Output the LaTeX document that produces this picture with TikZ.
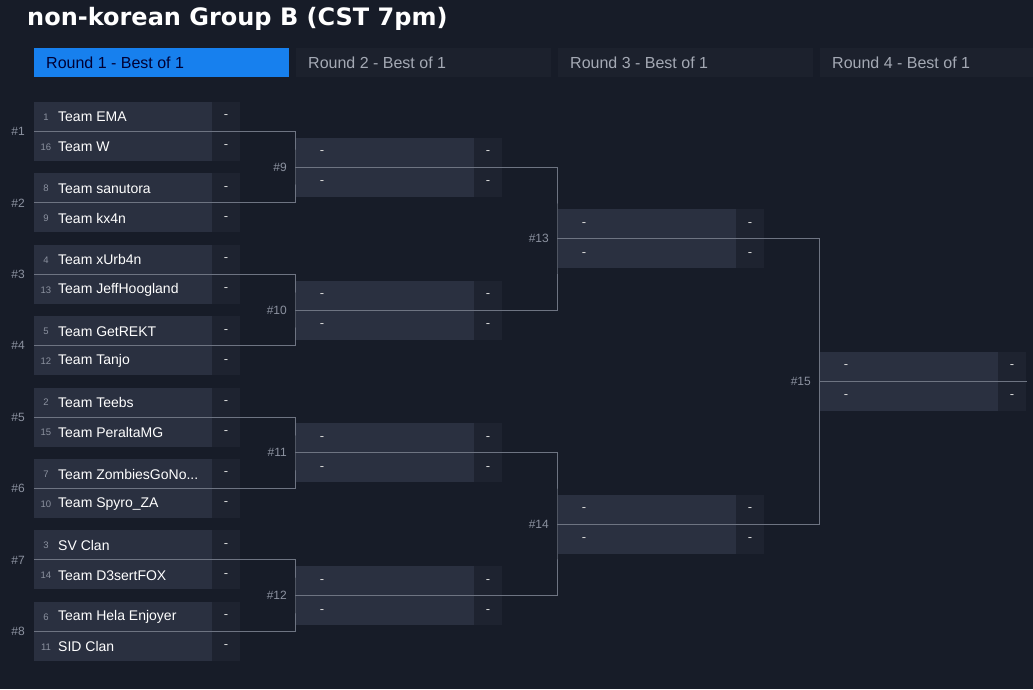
\documentclass[tikz,border=0pt]{standalone}
\usepackage{fontspec}
\setmainfont{Liberation Sans}
\newfontfamily\titlefont{DejaVu Sans}
\definecolor{bg}{HTML}{171C28}
\definecolor{rowc}{HTML}{2A3040}
\definecolor{scorec}{HTML}{1E2330}
\definecolor{tabc}{HTML}{1C212D}
\definecolor{bluec}{HTML}{1780EE}
\definecolor{linec}{HTML}{6E7482}
\definecolor{greyt}{HTML}{8C92A0}
\definecolor{tabt}{HTML}{A4A9B4}
\newcommand{\zgname}{Team ZombiesGoNo...}
\tikzset{
 conn/.style={draw=linec,line width=1pt},
 seed/.style={text=greyt,font=\fontsize{9.5}{10}\selectfont,anchor=center},
 tname/.style={text=white,font=\fontsize{14}{16}\selectfont,anchor=west,inner xsep=0pt},
 dashtxt/.style={text=white!85!black,font=\fontsize{13}{14}\selectfont,anchor=center},
 mlabel/.style={text=greyt,font=\fontsize{12}{13}\selectfont,anchor=east,inner xsep=0pt},
 tabtxt/.style={text=tabt,font=\fontsize{16}{18}\selectfont,anchor=west,inner xsep=0pt},
}
\newcommand{\teamrow}[5]{% x, ytop, seed, name, nodename
 \fill[rowc] (#1,#2) rectangle ++(178,29);
 \fill[scorec] (#1+178,#2) rectangle ++(28,29);
 \node[seed] at (#1+12,#2+15) {#3};
 \node[tname] (#5) at (#1+24,#2+15) {#4};
 \node[dashtxt] at (#1+192,#2+15) {-};
}
\newcommand{\emptyrow}[3]{% x, ytop, name
 \fill[rowc] (#1,#2) rectangle ++(178,29);
 \fill[scorec] (#1+178,#2) rectangle ++(28,29);
 \node[dashtxt] (#3) at (#1+26,#2+15) {-};
 \node[dashtxt] at (#1+192,#2+15) {-};
}
\begin{document}
\begin{tikzpicture}[x=1pt,y=-1pt]
\fill[bg] (0,0) rectangle (1033,689);
\useasboundingbox (0,0) rectangle (1033,689);
\node[anchor=west,inner xsep=0pt,text=white,font=\titlefont\bfseries\fontsize{24}{27}\selectfont] (title) at (27,19) {non-korean Group B (CST 7pm)};
% tabs
\fill[bluec] (34,48) rectangle (289,77);
\node[anchor=west,inner xsep=0pt,text=black!80!blue,font=\fontsize{16}{18}\selectfont] (t1) at (46,62.5) {Round 1 - Best of 1};
\fill[tabc] (296,48) rectangle (551,77);
\node[tabtxt] (t2) at (308,62.5) {Round 2 - Best of 1};
\fill[tabc] (558,48) rectangle (813,77);
\node[tabtxt] (t3) at (570,62.5) {Round 3 - Best of 1};
\fill[tabc] (820,48) rectangle (1033,77);
\node[tabtxt] (t4) at (832,62.5) {Round 4 - Best of 1};
% round 1
\foreach \i/\sa/\na/\sb/\nb in {0/1/Team EMA/16/Team W,1/8/Team sanutora/9/Team kx4n,2/4/Team xUrb4n/13/Team JeffHoogland,3/5/Team GetREKT/12/Team Tanjo,4/2/Team Teebs/15/Team PeraltaMG,5/7/\zgname/10/Team Spyro\_ZA,6/3/SV Clan/14/Team D3sertFOX,7/6/Team Hela Enjoyer/11/SID Clan}{
 \pgfmathsetmacro{\yt}{102+71.4*\i}
 \teamrow{34}{\yt}{\sa}{\na}{a\i}
 \teamrow{34}{\yt+30}{\sb}{\nb}{b\i}
 \coordinate (m1-\i) at (34,\yt+29.5);
 \pgfmathtruncatemacro{\k}{\i+1}
 \node[mlabel] at (25,\yt+29.5) {\#\k};
}
% round 2
\foreach \i in {0,1,2,3}{
 \pgfmathsetmacro{\c}{102+29.5+71.4*(2*\i+0.5)}
 \emptyrow{296}{\c-29.5}{r2a\i}
 \emptyrow{296}{\c+0.5}{r2b\i}
 \coordinate (m2-\i) at (296,\c);
 \pgfmathtruncatemacro{\k}{\i+9}
 \node[mlabel] at (287,\c) {\#\k};
}
% round 3
\foreach \i in {0,1}{
 \pgfmathsetmacro{\c}{102+29.5+71.4*(4*\i+1.5)}
 \emptyrow{558}{\c-29.5}{r3a\i}
 \emptyrow{558}{\c+0.5}{r3b\i}
 \coordinate (m3-\i) at (558,\c);
 \pgfmathtruncatemacro{\k}{\i+13}
 \node[mlabel] at (549,\c) {\#\k};
}
% round 4
\pgfmathsetmacro{\c}{102+29.5+71.4*3.5}
\emptyrow{820}{\c-29.5}{r4a}
\emptyrow{820}{\c+0.5}{r4b}
\coordinate (m4) at (820,\c);
\coordinate (m4e) at (1027,\c);
\node[mlabel] at (811,\c) {\#15};
% connectors
\foreach \i/\j/\t in {0/1/0,2/3/1,4/5/2,6/7/3}{
 \draw[conn] (m1-\i) -| (295,0 |- m2-\t) |- (m1-\j);
 \draw[conn] (295,0 |- m2-\t) -- (m2-\t);
}
\foreach \i/\j/\t in {0/1/0,2/3/1}{
 \draw[conn] (m2-\i) -| (557,0 |- m3-\t) |- (m2-\j);
 \draw[conn] (557,0 |- m3-\t) -- (m3-\t);
}
\draw[conn] (m3-0) -| (819,0 |- m4) |- (m3-1);
\draw[conn] (m4) -- (m4e);
\end{tikzpicture}
\end{document}
